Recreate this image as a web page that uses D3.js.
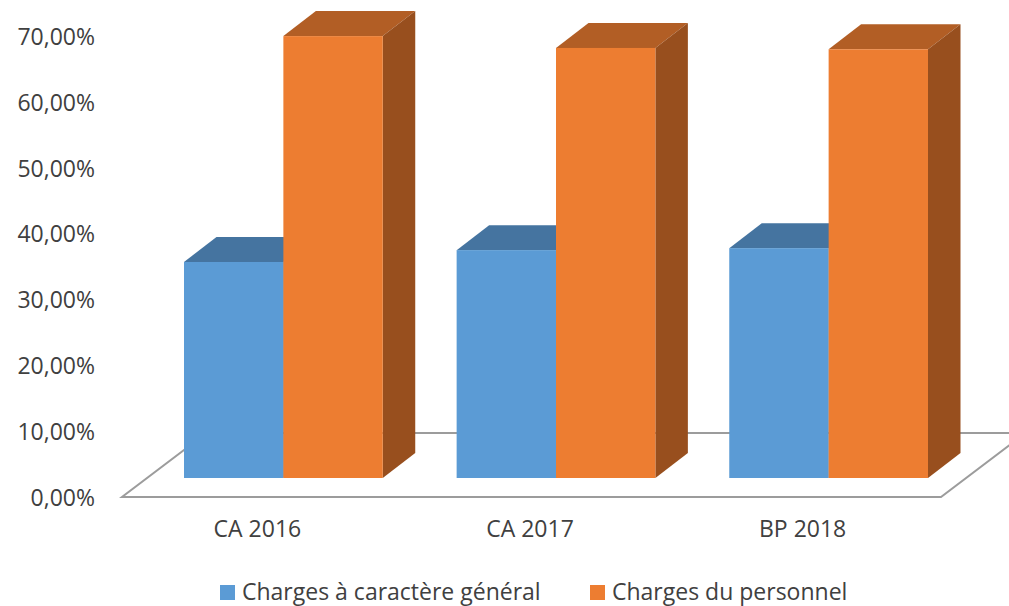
<!DOCTYPE html>
<html>
<head>
<meta charset="utf-8">
<script src="https://cdn.jsdelivr.net/npm/d3@7"></script>
<style>
body { margin: 0; background: #fff; overflow: hidden; }
text { font-family: "Open Sans", sans-serif; fill: #404040; }
</style>
</head>
<body>
<div id="chart"></div>
<script>
var width = 1009;
var height = 606;

var categories = ["CA 2016", "CA 2017", "BP 2018"];
var seriesNames = ["Charges à caractère général", "Charges du personnel"];
var generalValues = [32.8, 34.6, 34.9];
var personnelValues = [67.1, 65.3, 65.1];
var yTicks = [0, 10, 20, 30, 40, 50, 60, 70];

var frontColors = ["#5b9bd5", "#ed7d31"];
var topColors = ["#4574a0", "#b25e25"];
var sideColors = ["#3e6a92", "#984f1e"];

// 3D look: how far the bars and the floor are pushed back
var depthX = 32.5, depthY = 25;
var baseShift = 19;

var svg = d3.select("#chart")
    .append("svg")
    .attr("width", width)
    .attr("height", height);

var y = d3.scaleLinear().domain([0, 70]).range([497, 36]);

var x = d3.scaleBand()
    .domain(categories)
    .range([184, 928])
    .paddingInner(0.271)
    .paddingOuter(0);

var xSeries = d3.scaleBand()
    .domain([0, 1])
    .range([0, x.bandwidth()]);

// floor
var floorLeft = 122, floorRight = 941, floorBackY = 433;
var floorDx = (y(0) - floorBackY) * 1.32;
svg.append("path")
    .attr("d", d3.line()([
        [floorLeft, y(0)], [floorRight, y(0)],
        [floorRight + floorDx, floorBackY], [floorLeft + floorDx, floorBackY]
    ]) + "Z")
    .attr("fill", "none")
    .attr("stroke", "#9c9c9c")
    .attr("stroke-width", 2);

// bars
var groups = svg.selectAll(".group")
    .data(categories)
    .enter()
    .append("g")
    .attr("class", "group")
    .attr("transform", function (d) { return "translate(" + x(d) + ",0)"; });

[generalValues, personnelValues].forEach(function (values, s) {
    var w = xSeries.bandwidth();
    var x0 = xSeries(s);
    var bar = groups.append("g").datum(function (d, i) { return values[i]; });

    bar.append("path")
        .attr("fill", topColors[s])
        .attr("d", function (v) {
            var t = y(v) - baseShift;
            return d3.line()([[x0, t], [x0 + depthX, t - depthY], [x0 + w + depthX, t - depthY], [x0 + w, t]]) + "Z";
        });

    bar.append("path")
        .attr("fill", sideColors[s])
        .attr("d", function (v) {
            var t = y(v) - baseShift, b = y(0) - baseShift;
            return d3.line()([[x0 + w, t], [x0 + w + depthX, t - depthY], [x0 + w + depthX, b - depthY], [x0 + w, b]]) + "Z";
        });

    bar.append("rect")
        .attr("fill", frontColors[s])
        .attr("x", x0)
        .attr("y", function (v) { return y(v) - baseShift; })
        .attr("width", w)
        .attr("height", function (v) { return y(0) - y(v); });
});

// axes
var yAxis = d3.axisLeft(y)
    .tickValues(yTicks)
    .tickSize(0)
    .tickPadding(0)
    .tickFormat(function (d) { return d3.format(".2f")(d).replace(".", ",") + "%"; });

svg.append("g")
    .attr("transform", "translate(95,1)")
    .call(yAxis)
    .call(function (g) { g.select(".domain").remove(); })
    .selectAll("text")
    .style("font-size", "23px");

var xAxis = d3.axisBottom(x).tickSize(0).tickPadding(0);

svg.append("g")
    .attr("transform", "translate(-26,521)")
    .call(xAxis)
    .call(function (g) { g.select(".domain").remove(); })
    .selectAll("text")
    .style("font-size", "23px");

// legend
var legendX = [220, 590];
var legend = svg.selectAll(".legend")
    .data(seriesNames)
    .enter()
    .append("g")
    .attr("class", "legend")
    .attr("transform", function (d, i) { return "translate(" + legendX[i] + ",585)"; });

legend.append("rect")
    .attr("width", 15)
    .attr("height", 15)
    .attr("fill", function (d, i) { return frontColors[i]; });

legend.append("text")
    .attr("x", 22)
    .attr("y", 15)
    .style("font-size", "23px")
    .text(function (d) { return d; });
</script>
</body>
</html>
